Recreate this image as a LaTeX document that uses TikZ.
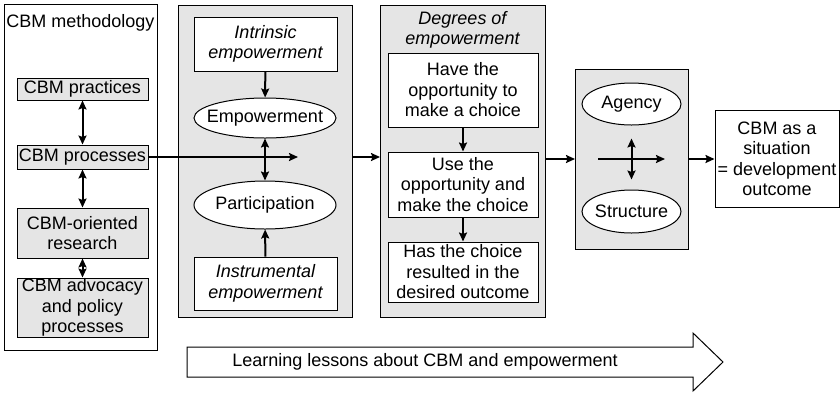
\documentclass[tikz,border=0pt]{standalone}
\usepackage{fontspec}
\setmainfont{Liberation Sans}
\usetikzlibrary{shapes,arrows,arrows.meta}
\definecolor{pangray}{gray}{0.9}

\begin{document}
\begin{tikzpicture}
  [
    x=1pt, y=-1pt,
    font=\fontsize{18}{20.5}\selectfont,
    pan/.style =
      {draw, fill=pangray, line width=1pt, outer sep=0pt, inner sep=0pt},
    gbx/.style =
      {draw, fill=pangray, line width=1pt, align=center, inner sep=0pt,
       minimum width=131pt},
    wbx/.style =
      {draw, fill=white, line width=1pt, align=center, inner sep=0pt},
    ell/.style =
      {draw, fill=white, ellipse, line width=1pt, inner xsep=-15pt, inner ysep=0pt},
    itx/.style =
      {align=center, font=\fontsize{18}{20.5}\selectfont\itshape},
    >={Stealth[length=9pt, width=8pt, inset=1.5pt]},
    lnk/.style = {->, line width=2pt},
    dbl/.style = {<->, line width=2pt}
  ]
  \useasboundingbox (0,0) rectangle (840,392);

  \node [pan, fill=white, minimum width=153pt, minimum height=346pt] at (80.5,177) (m) {};
  \node at (80.5,23) (mt) {CBM methodology};
  \node [gbx, minimum height=22pt] at (82.5,89)    (m1) {CBM practices};
  \node [gbx, minimum height=24pt] at (82.5,157)   (m2) {CBM processes};
  \node [gbx, minimum height=50pt] at (82.5,233)   (m3) {CBM-oriented\\research};
  \node [gbx, minimum height=59pt] at (82.5,307.5) (m4) {CBM advocacy\\and policy\\processes};

  \node [pan, minimum width=174pt, minimum height=312pt] at (265,161) (e) {};
  \node [wbx, itx, minimum width=143pt, minimum height=54pt] at (265.5,44) (e1) {Intrinsic\\empowerment};
  \node [ell, minimum width=142pt, minimum height=40pt] at (265,118) (e2) {Empowerment};
  \node [ell, minimum width=142pt, minimum height=48pt] at (265,205) (e3) {Participation};
  \node [wbx, itx, minimum width=143pt, minimum height=53pt] at (265.5,283.5) (e4) {Instrumental\\empowerment};
  \coordinate (em) at (298,157);

  \node [pan, minimum width=165pt, minimum height=312pt] at (462.5,161) (d) {};
  \node [itx] at (462.5,30) (dt) {Degrees of\\empowerment};
  \node [wbx, minimum width=150pt, minimum height=74pt] at (463,90)    (d1) {Have the\\opportunity to\\make a choice};
  \node [wbx, minimum width=150pt, minimum height=65pt] at (463,184.5) (d2) {Use the\\opportunity and\\make the choice};
  \node [wbx, minimum width=150pt, minimum height=60pt] at (463,272)   (d3) {Has the choice\\resulted in the\\desired outcome};

  \node [pan, minimum width=113pt, minimum height=180pt] at (631.5,159) (s) {};
  \node [ell, minimum width=99pt, minimum height=42pt] at (631.5,104)   (s1) {Agency};
  \node [ell, minimum width=99pt, minimum height=43pt] at (631.5,211.5) (s2) {Structure};
  \coordinate (s3) at (598,159);
  \coordinate (s4) at (665,159);

  \node [wbx, minimum width=124pt, minimum height=97pt] at (777,159) (o) {CBM as a\\situation\\= development\\outcome};

  \draw [line width=1pt] (187,347) -- (693,347) -- (693,333) -- (723,362)
    -- (693,391) -- (693,377) -- (187,377) -- cycle;
  \node at (425,362) (l) {Learning lessons about CBM and empowerment};

  \draw [dbl] (m1) -- (m2);
  \draw [dbl] (m2) -- (m3);
  \draw [dbl] (m3) -- (m4);
  \draw [lnk] (m2.east) -- (em);

  \draw [lnk] (e1) -- (e2);
  \draw [dbl] (e2) -- (e3);
  \draw [lnk] (e4) -- (e3);
  \draw [lnk] (e.east |- em) -- (d.west |- em);

  \draw [lnk] (d1) -- (d2);
  \draw [lnk] (d2) -- (d3);
  \draw [lnk] (d.east |- s.west) -- (s.west);

  \draw [lnk] (s3) -- (s4);
  \draw [dbl, shorten <=13pt, shorten >=10pt] (s1) -- (s2);
  \draw [lnk] (s) -- (o);

\end{tikzpicture}
\end{document}
